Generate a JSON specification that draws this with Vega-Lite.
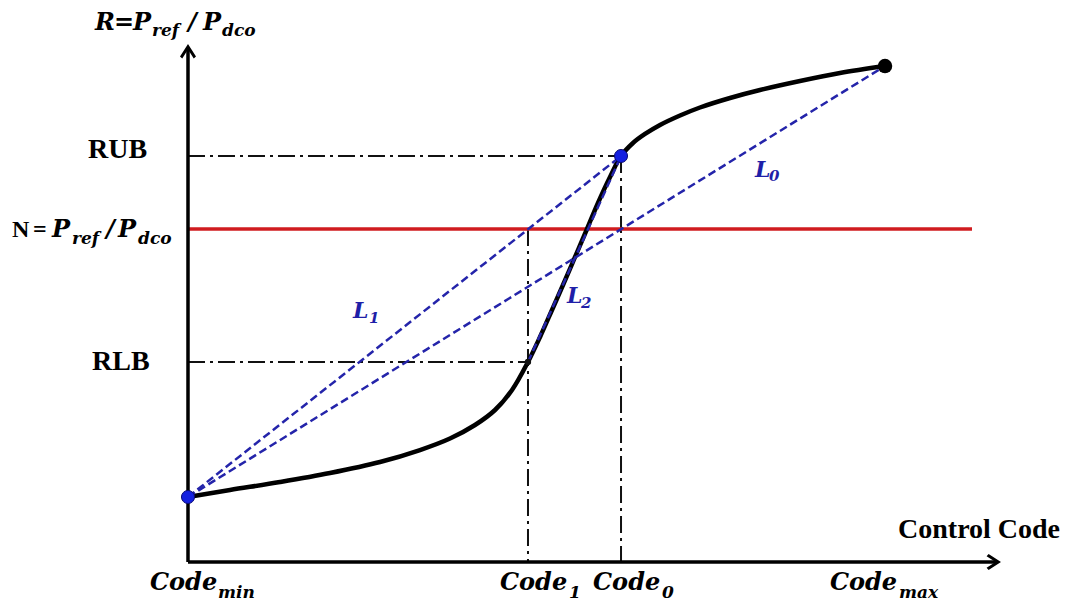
{
  "$schema": "https://vega.github.io/schema/vega-lite/v6.json",
  "width": 1084,
  "height": 606,
  "autosize": {"type": "fit", "contains": "padding"},
  "padding": 0,
  "background": "white",
  "config": {"view": {"stroke": null}},
  "datasets": {
    "segments": [
      {"kind": "axis", "x": 0, "y": 0, "x2": 0, "y2": 171},
      {"kind": "axis", "x": 0, "y": 0, "x2": 115.5, "y2": 0},
      {"kind": "dashdot", "x": 0, "y": 135.33, "x2": 61.86, "y2": 135.33},
      {"kind": "dashdot", "x": 0, "y": 66.67, "x2": 48.57, "y2": 66.67},
      {"kind": "dashdot", "x": 48.57, "y": 111, "x2": 48.57, "y2": 0},
      {"kind": "dashdot", "x": 61.86, "y": 135.33, "x2": 61.86, "y2": 0},
      {"kind": "red", "x": 0, "y": 111, "x2": 112, "y2": 111},
      {"kind": "blue", "x": 0, "y": 21.67, "x2": 99.57, "y2": 165.33},
      {"kind": "blue", "x": 0, "y": 21.67, "x2": 61.86, "y2": 135.33},
      {"kind": "blue", "x": 48.57, "y": 66.67, "x2": 61.86, "y2": 135.33}
    ],
    "arrows": [
      {"x": 0, "y": 170, "angle": 0},
      {"x": 115, "y": 0, "angle": 90}
    ],
    "curve": [
      {"code": 0, "r": 21.67},
      {"code": 6, "r": 24},
      {"code": 13.14, "r": 26.67},
      {"code": 20.29, "r": 29.67},
      {"code": 27.43, "r": 33.33},
      {"code": 33.14, "r": 37.33},
      {"code": 37.43, "r": 41.17},
      {"code": 41, "r": 45.67},
      {"code": 43.86, "r": 50.67},
      {"code": 46.29, "r": 57.33},
      {"code": 48.57, "r": 66.67},
      {"code": 50.29, "r": 75},
      {"code": 52, "r": 84},
      {"code": 53.57, "r": 92.33},
      {"code": 55.29, "r": 101.67},
      {"code": 57, "r": 111},
      {"code": 58.57, "r": 119.67},
      {"code": 60.29, "r": 128.33},
      {"code": 61.86, "r": 135.33},
      {"code": 63.57, "r": 139.67},
      {"code": 65.29, "r": 142.67},
      {"code": 67.43, "r": 145.67},
      {"code": 70.29, "r": 148.83},
      {"code": 73.14, "r": 151.5},
      {"code": 77.43, "r": 154.67},
      {"code": 81.71, "r": 157.33},
      {"code": 87.43, "r": 160.33},
      {"code": 93.14, "r": 163},
      {"code": 99.57, "r": 165.33}
    ],
    "dots": [
      {"kind": "blue", "x": 0, "y": 21.67},
      {"kind": "blue", "x": 61.86, "y": 135.33},
      {"kind": "small", "x": 48.57, "y": 66.67},
      {"kind": "big", "x": 99.57, "y": 165.33}
    ],
    "labels": [
      {"kind": "math", "t": "R", "x": -13.29, "y": 177.33},
      {"kind": "math", "t": "=", "x": -10.57, "y": 177.33},
      {"kind": "math", "t": "P", "x": -7.86, "y": 177.33},
      {"kind": "msub", "t": "ref", "x": -5.14, "y": 175.33},
      {"kind": "math", "t": "/", "x": 0, "y": 177.33},
      {"kind": "math", "t": "P", "x": 2.14, "y": 177.33},
      {"kind": "msub", "t": "dco", "x": 4.86, "y": 175.33},
      {"kind": "nlab", "t": "N", "x": -25.14, "y": 108.33},
      {"kind": "nlab", "t": "=", "x": -22.14, "y": 108.33},
      {"kind": "math", "t": "P", "x": -19.43, "y": 108.33},
      {"kind": "msub", "t": "ref", "x": -16.57, "y": 106},
      {"kind": "math", "t": "/", "x": -11.71, "y": 108.33},
      {"kind": "math", "t": "P", "x": -10, "y": 108.33},
      {"kind": "msub", "t": "dco", "x": -7.14, "y": 106},
      {"kind": "big", "t": "RUB", "x": -14.29, "y": 134.67},
      {"kind": "big", "t": "RLB", "x": -13.71, "y": 64},
      {"kind": "big", "t": "Control Code", "x": 101.43, "y": 8},
      {"kind": "math", "t": "Code", "x": -5.43, "y": -9.33},
      {"kind": "msub", "t": "min", "x": 4.29, "y": -12},
      {"kind": "math", "t": "Code", "x": 44.57, "y": -9.33},
      {"kind": "msub", "t": "1", "x": 54.43, "y": -12},
      {"kind": "math", "t": "Code", "x": 57.86, "y": -9.33},
      {"kind": "msub", "t": "0", "x": 67.71, "y": -12},
      {"kind": "math", "t": "Code", "x": 91.71, "y": -9.33},
      {"kind": "msub", "t": "max", "x": 101.57, "y": -12},
      {"kind": "L", "t": "L", "x": 23.57, "y": 81.33},
      {"kind": "Lsub", "t": "1", "x": 25.86, "y": 79.67},
      {"kind": "L", "t": "L", "x": 54.14, "y": 86.33},
      {"kind": "Lsub", "t": "2", "x": 56.14, "y": 84.67},
      {"kind": "L", "t": "L", "x": 81, "y": 128.33},
      {"kind": "Lsub", "t": "0", "x": 83, "y": 127}
    ]
  },
  "encoding": {
    "x": {"type": "quantitative", "scale": {"domain": [-26.857, 128], "nice": false, "zero": false}, "axis": null},
    "y": {"type": "quantitative", "scale": {"domain": [-14.667, 187.333], "nice": false, "zero": false}, "axis": null}
  },
  "layer": [
    {
      "data": {"name": "segments"},
      "transform": [{"filter": "datum.kind === 'dashdot'"}],
      "mark": {"type": "rule", "color": "#111111", "strokeWidth": 2, "strokeDash": [17, 5, 3, 5]},
      "encoding": {"x": {"field": "x"}, "y": {"field": "y"}, "x2": {"field": "x2"}, "y2": {"field": "y2"}}
    },
    {
      "data": {"name": "segments"},
      "transform": [{"filter": "datum.kind === 'red'"}],
      "mark": {"type": "rule", "color": "#d01c1f", "strokeWidth": 3.5},
      "encoding": {"x": {"field": "x"}, "y": {"field": "y"}, "x2": {"field": "x2"}, "y2": {"field": "y2"}}
    },
    {
      "data": {"name": "segments"},
      "transform": [{"filter": "datum.kind === 'axis'"}],
      "mark": {"type": "rule", "color": "#000000", "strokeWidth": 3.5},
      "encoding": {"x": {"field": "x"}, "y": {"field": "y"}, "x2": {"field": "x2"}, "y2": {"field": "y2"}}
    },
    {
      "data": {"name": "arrows"},
      "mark": {"type": "point", "filled": true, "color": "#000000", "opacity": 1, "size": 256,
               "shape": "M0,-1L1,0.55L0.72,0.8L0,-0.32L-0.72,0.8L-1,0.55Z"},
      "encoding": {"x": {"field": "x"}, "y": {"field": "y"}, "angle": {"field": "angle", "type": "quantitative", "scale": null}}
    },
    {
      "data": {"name": "curve"},
      "mark": {"type": "line", "color": "#000000", "strokeWidth": 4.5, "interpolate": "catmull-rom", "tension": 0.5},
      "encoding": {"x": {"field": "code"}, "y": {"field": "r"}}
    },
    {
      "data": {"name": "segments"},
      "transform": [{"filter": "datum.kind === 'blue'"}],
      "mark": {"type": "rule", "color": "#2424aa", "strokeWidth": 2.5, "strokeDash": [8, 4]},
      "encoding": {"x": {"field": "x"}, "y": {"field": "y"}, "x2": {"field": "x2"}, "y2": {"field": "y2"}}
    },
    {
      "data": {"name": "dots"},
      "transform": [{"filter": "datum.kind === 'blue'"}],
      "mark": {"type": "point", "filled": true, "fill": "#1420e0", "stroke": "#0a0a70", "strokeWidth": 1, "opacity": 1, "size": 170},
      "encoding": {"x": {"field": "x"}, "y": {"field": "y"}}
    },
    {
      "data": {"name": "dots"},
      "transform": [{"filter": "datum.kind === 'small'"}],
      "mark": {"type": "point", "filled": true, "color": "#111111", "opacity": 1, "size": 40},
      "encoding": {"x": {"field": "x"}, "y": {"field": "y"}}
    },
    {
      "data": {"name": "dots"},
      "transform": [{"filter": "datum.kind === 'big'"}],
      "mark": {"type": "point", "filled": true, "color": "#000000", "opacity": 1, "size": 210},
      "encoding": {"x": {"field": "x"}, "y": {"field": "y"}}
    },
    {
      "data": {"name": "labels"},
      "transform": [{"filter": "datum.kind === 'math'"}],
      "mark": {"type": "text", "align": "left", "baseline": "alphabetic", "font": "DejaVu Serif", "fontStyle": "italic", "fontWeight": "bold", "fontSize": 24, "color": "#000000"},
      "encoding": {"x": {"field": "x"}, "y": {"field": "y"}, "text": {"field": "t"}}
    },
    {
      "data": {"name": "labels"},
      "transform": [{"filter": "datum.kind === 'msub'"}],
      "mark": {"type": "text", "align": "left", "baseline": "alphabetic", "font": "DejaVu Serif", "fontStyle": "italic", "fontWeight": "bold", "fontSize": 17, "color": "#000000"},
      "encoding": {"x": {"field": "x"}, "y": {"field": "y"}, "text": {"field": "t"}}
    },
    {
      "data": {"name": "labels"},
      "transform": [{"filter": "datum.kind === 'big'"}],
      "mark": {"type": "text", "align": "left", "baseline": "alphabetic", "font": "Liberation Serif", "fontWeight": "bold", "fontSize": 28, "color": "#000000"},
      "encoding": {"x": {"field": "x"}, "y": {"field": "y"}, "text": {"field": "t"}}
    },
    {
      "data": {"name": "labels"},
      "transform": [{"filter": "datum.kind === 'nlab'"}],
      "mark": {"type": "text", "align": "left", "baseline": "alphabetic", "font": "Liberation Serif", "fontWeight": "bold", "fontSize": 24, "color": "#000000"},
      "encoding": {"x": {"field": "x"}, "y": {"field": "y"}, "text": {"field": "t"}}
    },
    {
      "data": {"name": "labels"},
      "transform": [{"filter": "datum.kind === 'L'"}],
      "mark": {"type": "text", "align": "left", "baseline": "alphabetic", "font": "DejaVu Serif", "fontStyle": "italic", "fontWeight": "bold", "fontSize": 22, "color": "#1f1fa8"},
      "encoding": {"x": {"field": "x"}, "y": {"field": "y"}, "text": {"field": "t"}}
    },
    {
      "data": {"name": "labels"},
      "transform": [{"filter": "datum.kind === 'Lsub'"}],
      "mark": {"type": "text", "align": "left", "baseline": "alphabetic", "font": "DejaVu Serif", "fontStyle": "italic", "fontWeight": "bold", "fontSize": 15, "color": "#1f1fa8"},
      "encoding": {"x": {"field": "x"}, "y": {"field": "y"}, "text": {"field": "t"}}
    }
  ]
}
